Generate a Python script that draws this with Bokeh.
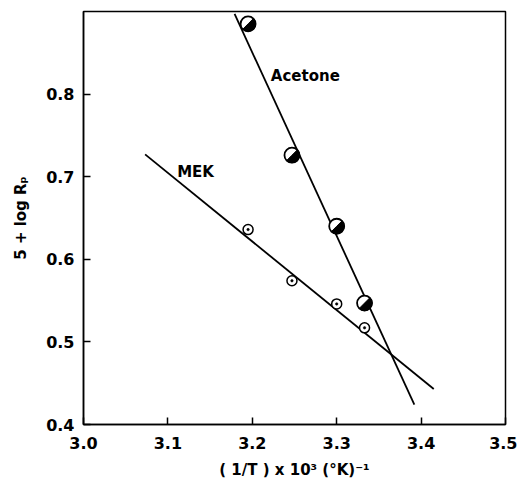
import numpy as np
from bokeh.plotting import figure
from bokeh.models import FixedTicker, ColumnDataSource, Range1d
from bokeh.core.properties import value
from bokeh.embed import file_html
from bokeh.resources import INLINE

# ---- data ----
inv_T = [3.195, 3.247, 3.300, 3.333]
acetone_y = [0.885, 0.726, 0.640, 0.547]
mek_y = [0.636, 0.574, 0.546, 0.517]

acetone_fit_x = [3.179, 3.392]
acetone_fit_y = [0.897, 0.424]
mek_fit_x = [3.073, 3.415]
mek_fit_y = [0.727, 0.443]

series_names = ["Acetone", "MEK"]
label_x = [3.222, 3.111]
label_y = [0.822, 0.706]

x_ticks = [3.0, 3.1, 3.2, 3.3, 3.4, 3.5]
y_ticks = [0.4, 0.5, 0.6, 0.7, 0.8]
x_tick_labels = ["3.0", "3.1", "3.2", "3.3", "3.4", "3.5"]
y_tick_labels = ["0.4", "0.5", "0.6", "0.7", "0.8"]

FONT = "DejaVu Sans"

p = figure(frame_width=422, frame_height=413,
           x_range=Range1d(3.0, 3.5), y_range=Range1d(0.4, 0.9),
           output_backend="svg", toolbar_location=None,
           min_border_left=83, min_border_right=12,
           min_border_top=11, min_border_bottom=68)
p.xgrid.visible = False
p.ygrid.visible = False
p.outline_line_color = "black"
p.outline_line_width = 1.5
p.background_fill_color = "white"
p.border_fill_color = "white"

p.xaxis.ticker = FixedTicker(ticks=x_ticks)
p.yaxis.ticker = FixedTicker(ticks=y_ticks)
p.xaxis.major_label_overrides = {t: l for t, l in zip(x_ticks, x_tick_labels)}
p.yaxis.major_label_overrides = {t: l for t, l in zip(y_ticks, y_tick_labels)}

for ax in (p.xaxis[0], p.yaxis[0]):
    ax.major_tick_in = 7
    ax.major_tick_out = 0
    ax.minor_tick_in = 0
    ax.minor_tick_out = 0
    ax.axis_line_width = 1.5
    ax.major_tick_line_width = 1.5
    ax.major_label_text_font = FONT
    ax.major_label_text_font_size = "16px"
    ax.major_label_text_font_style = "bold"
    ax.major_label_text_color = "black"
    ax.axis_label_text_font = FONT
    ax.axis_label_text_font_size = "15px"
    ax.axis_label_text_font_style = "bold"
    ax.axis_label_text_color = "black"

p.xaxis.major_label_standoff = 12
p.yaxis.major_label_standoff = 9
p.xaxis.axis_label = "( 1/T ) x 10\u00b3 (\u00b0K)\u207b\u00b9"
p.yaxis.axis_label = "5 + log R\u209a"
p.xaxis.axis_label_standoff = 9
p.yaxis.axis_label_standoff = 13

# fit lines
p.line(acetone_fit_x, acetone_fit_y, line_color="black", line_width=1.8)
p.line(mek_fit_x, mek_fit_y, line_color="black", line_width=1.8)

# MEK: open circles with centre dot
src_m = ColumnDataSource(dict(x=inv_T, y=mek_y))
p.scatter("x", "y", source=src_m, marker="circle", size=10,
          fill_color="white", line_color="black", line_width=1.5)
p.scatter("x", "y", source=src_m, marker="circle", size=2.5,
          fill_color="black", line_color="black", line_width=0.5)

# Acetone: half-filled circles
src_a = ColumnDataSource(dict(x=inv_T, y=acetone_y))
p.scatter("x", "y", source=src_a, marker="circle", size=15,
          fill_color="white", line_color="black", line_width=1.8)
p.wedge("x", "y", source=src_a, radius=7.5, radius_units="screen",
        start_angle=-3 * np.pi / 4, end_angle=np.pi / 4,
        fill_color="black", line_color="black")

# series labels
p.text(label_x, label_y, text=series_names, text_font=value(FONT),
       text_font_size="15px", text_font_style="bold",
       text_align="left", text_baseline="middle", text_color="black")

open("out.html", "w").write(file_html(p, INLINE))
